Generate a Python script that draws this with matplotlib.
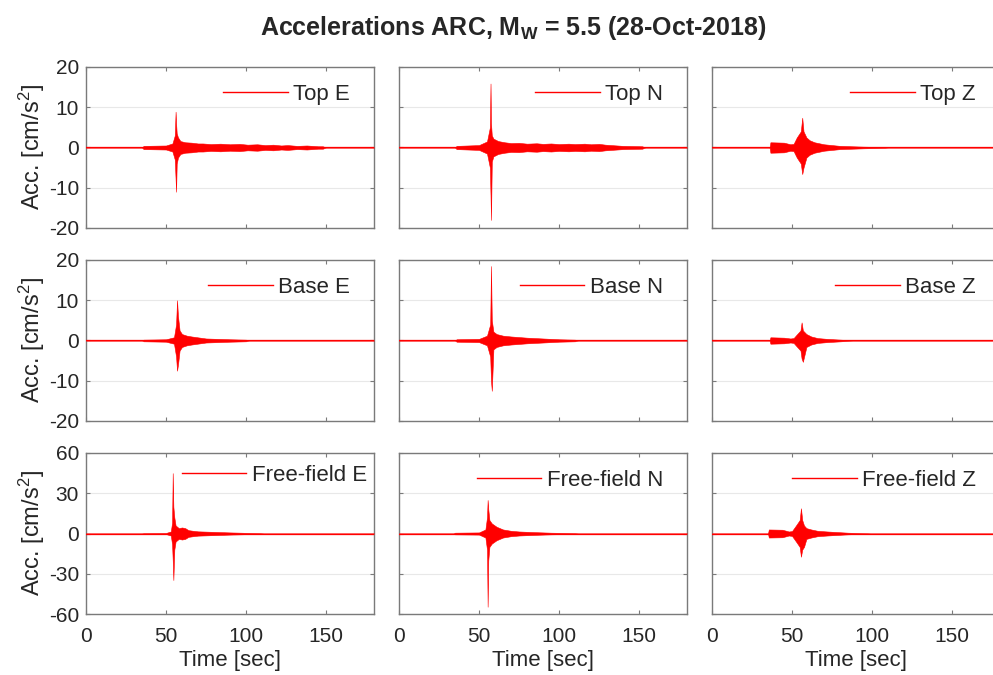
import matplotlib
matplotlib.use("Agg")
import matplotlib.pyplot as plt
from matplotlib.lines import Line2D

plt.rcParams['font.family'] = ['Liberation Sans', 'DejaVu Sans']
plt.rcParams['mathtext.fontset'] = 'custom'
plt.rcParams['mathtext.rm'] = 'Liberation Sans'
plt.rcParams['mathtext.it'] = 'Liberation Sans:italic'
plt.rcParams['mathtext.bf'] = 'Liberation Sans:bold'
plt.rcParams['axes.unicode_minus'] = False

# ---------------- data (envelopes) ----------------
TITLE = r"Accelerations ARC, M$_{\mathbf{W}}$ = 5.5 (28-Oct-2018)"
X_TICKS = [0, 50, 100, 150]
Y_TICKS_TOP = [-20, -10, 0, 10, 20]
Y_TICKS_FF = [-60, -30, 0, 30, 60]
LABELS = [["Top E", "Top N", "Top Z"],
          ["Base E", "Base N", "Base Z"],
          ["Free-field E", "Free-field N", "Free-field Z"]]

# Top E
TOP_E_T  = [0, 35, 36, 50, 54, 55.5, 56.0, 56.3, 56.7, 57.5, 59, 62, 66, 70, 73, 78, 84, 90, 96, 101, 107, 112, 117, 122, 126, 132, 138, 145, 148, 150, 180]
TOP_E_UP = [0, 0, 0.4, 0.5, 1.0, 3.0, 8.9, 6.0, 3.5, 2.5, 1.6, 1.3, 1.2, 1.0, 1.0, 0.85, 0.95, 0.8, 0.9, 0.7, 0.8, 0.6, 0.7, 0.5, 0.6, 0.4, 0.5, 0.3, 0.3, 0, 0]
TOP_E_LO = [0, 0, -0.4, -0.5, -1.0, -3.0, -8.0, -11.0, -4.0, -2.5, -1.6, -1.3, -1.2, -1.0, -1.0, -0.85, -0.95, -0.8, -0.9, -0.7, -0.8, -0.6, -0.7, -0.5, -0.6, -0.4, -0.5, -0.3, -0.3, 0, 0]
# Top N
TOP_N_T  = [0, 35, 36, 50, 55, 56.8, 57.2, 57.5, 58.0, 59, 62, 66, 70, 75, 80, 86, 90, 95, 100, 106, 110, 116, 120, 125, 129, 140, 152, 154, 180]
TOP_N_UP = [0, 0, 0.4, 0.6, 1.5, 5.0, 15.9, 6.0, 3.0, 2.2, 1.6, 1.3, 1.1, 1.15, 0.95, 1.05, 0.9, 1.0, 0.85, 0.95, 0.85, 0.95, 0.8, 0.9, 0.7, 0.4, 0.3, 0, 0]
TOP_N_LO = [0, 0, -0.4, -0.6, -1.5, -5.0, -12.0, -18.0, -3.5, -2.2, -1.6, -1.3, -1.1, -1.15, -0.95, -1.05, -0.9, -1.0, -0.85, -0.95, -0.85, -0.95, -0.8, -0.9, -0.7, -0.4, -0.3, 0, 0]
# Top Z
TOP_Z_T  = [0, 36, 36.5, 45, 49, 51, 53, 55.5, 56.4, 57.2, 59, 61, 64, 70, 80, 95, 108, 110, 180]
TOP_Z_UP = [0, 0, 1.3, 1.2, 0.8, 0.9, 2.5, 4.0, 7.4, 4.0, 2.5, 1.8, 1.3, 0.8, 0.4, 0.2, 0.1, 0, 0]
TOP_Z_LO = [0, 0, -1.3, -1.2, -0.8, -0.9, -2.5, -4.0, -6.6, -5.0, -2.5, -1.8, -1.3, -0.8, -0.4, -0.2, -0.1, 0, 0]
# Base E
BASE_E_T  = [0, 35, 36, 50, 55, 56.3, 56.9, 57.5, 58.5, 60, 63, 66, 75, 90, 100, 102, 180]
BASE_E_UP = [0, 0, 0.2, 0.3, 0.8, 4.0, 10.0, 6.0, 2.5, 1.6, 1.2, 1.0, 0.5, 0.3, 0.2, 0, 0]
BASE_E_LO = [0, 0, -0.2, -0.3, -0.8, -4.0, -7.5, -6.0, -2.5, -1.6, -1.2, -1.0, -0.5, -0.3, -0.2, 0, 0]
# Base N
BASE_N_T  = [0, 35, 36, 50, 55, 57.0, 57.5, 58.0, 59, 61, 65, 70, 80, 90, 100, 110, 112, 180]
BASE_N_UP = [0, 0, 0.3, 0.4, 1.2, 4.0, 18.5, 5.0, 2.2, 1.6, 1.2, 1.0, 0.7, 0.5, 0.3, 0.2, 0, 0]
BASE_N_LO = [0, 0, -0.3, -0.4, -1.2, -4.0, -10.0, -12.5, -2.2, -1.6, -1.2, -1.0, -0.7, -0.5, -0.3, -0.2, 0, 0]
# Base Z
BASE_Z_T  = [0, 36, 36.5, 45, 49, 51, 53, 55.3, 56.0, 56.8, 59, 62, 66, 72, 85, 88, 180]
BASE_Z_UP = [0, 0, 0.8, 0.7, 0.5, 0.6, 1.5, 2.5, 4.5, 2.5, 1.6, 1.0, 0.6, 0.4, 0.1, 0, 0]
BASE_Z_LO = [0, 0, -0.8, -0.7, -0.5, -0.6, -1.5, -2.5, -4.5, -5.3, -1.6, -1.0, -0.6, -0.4, -0.1, 0, 0]
# Free-field E
FF_E_T  = [0, 35, 36, 50, 53, 53.8, 54.2, 54.6, 55.2, 56, 58, 60, 62, 64, 67, 70, 80, 90, 100, 109, 111, 180]
FF_E_UP = [0, 0, 0.3, 0.4, 1.5, 8.0, 45.0, 20.0, 12.0, 6.0, 4.0, 4.5, 4.0, 2.5, 2.0, 1.6, 1.2, 0.8, 0.5, 0.3, 0, 0]
FF_E_LO = [0, 0, -0.3, -0.4, -1.5, -8.0, -20.0, -34.7, -12.0, -6.0, -4.0, -4.5, -4.0, -2.5, -2.0, -1.6, -1.2, -0.8, -0.5, -0.3, 0, 0]
# Free-field N
FF_N_T  = [0, 34, 35, 50, 54, 55.0, 55.4, 55.8, 56.5, 58, 61, 65, 70, 75, 85, 95, 110, 112, 180]
FF_N_UP = [0, 0, 0.6, 0.8, 3.0, 12.0, 25.0, 18.0, 10.0, 7.5, 5.0, 3.0, 2.0, 1.5, 1.0, 0.6, 0.3, 0, 0]
FF_N_LO = [0, 0, -0.6, -0.8, -3.0, -12.0, -54.6, -20.0, -10.0, -7.5, -5.0, -3.0, -2.0, -1.5, -1.0, -0.6, -0.3, 0, 0]
# Free-field Z
FF_Z_T  = [0, 35, 35.5, 44, 48, 50, 52.5, 54.8, 55.6, 56.4, 57.5, 59, 62, 66, 72, 85, 97, 99, 180]
FF_Z_UP = [0, 0, 3.0, 2.8, 1.5, 1.8, 6.0, 10.0, 18.8, 10.0, 6.0, 4.0, 3.0, 2.0, 1.5, 0.6, 0.2, 0, 0]
FF_Z_LO = [0, 0, -3.0, -2.8, -1.5, -1.8, -6.0, -10.0, -17.3, -12.0, -10.0, -4.0, -3.0, -2.0, -1.5, -0.6, -0.2, 0, 0]

SERIES = [[(TOP_E_T, TOP_E_UP, TOP_E_LO), (TOP_N_T, TOP_N_UP, TOP_N_LO), (TOP_Z_T, TOP_Z_UP, TOP_Z_LO)],
          [(BASE_E_T, BASE_E_UP, BASE_E_LO), (BASE_N_T, BASE_N_UP, BASE_N_LO), (BASE_Z_T, BASE_Z_UP, BASE_Z_LO)],
          [(FF_E_T, FF_E_UP, FF_E_LO), (FF_N_T, FF_N_UP, FF_N_LO), (FF_Z_T, FF_Z_UP, FF_Z_LO)]]

# ---------------- figure ----------------
W, H = 993, 675
fig = plt.figure(figsize=(W / 100, H / 100), dpi=100)

col_x = [86, 399, 712]
row_y = [(67, 228), (260, 421), (453, 614)]
ax_w = 288
# legend offsets (px from right / top of each axes)
LEG_DX = [[15, 15, 15], [15, 15, 15], [-2, 15, 15]]
LEG_DY = [[8, 8, 8], [8, 8, 8], [3, 8, 8]]

TXT = '#262626'
SPINE = '#7a7a7a'
RED = '#ff0000'

for r in range(3):
    for c in range(3):
        top, bot = row_y[r]
        ax_h = bot - top
        ax = fig.add_axes([col_x[c] / W, 1 - bot / H, ax_w / W, ax_h / H])
        t, up, lo = SERIES[r][c]
        ax.axhline(0, color=RED, lw=0.9, zorder=3)
        ax.fill_between(t, lo, up, color=RED, lw=0.4, edgecolor=RED, zorder=3)
        ax.set_xlim(0, 180)
        yt = Y_TICKS_FF if r == 2 else Y_TICKS_TOP
        ax.set_ylim(yt[0], yt[-1])
        ax.set_yticks(yt)
        ax.set_xticks(X_TICKS)
        ax.yaxis.grid(True, color='#e8e8e8', lw=0.8, zorder=0)
        ax.set_axisbelow(True)
        ax.tick_params(direction='in', top=True, right=True, length=3,
                       color=SPINE, labelsize=15, labelcolor=TXT)
        ax.tick_params(axis='x', pad=9)
        ax.tick_params(axis='y', pad=5)
        for s in ax.spines.values():
            s.set_color(SPINE)
            s.set_linewidth(1.0)
        if c != 0:
            ax.tick_params(labelleft=False)
        else:
            ax.set_ylabel(r"Acc. [cm/s$^2$]", fontsize=17, color=TXT, labelpad=1)
        if r != 2:
            ax.tick_params(labelbottom=False)
        else:
            ax.set_xlabel("Time [sec]", fontsize=16, color=TXT, labelpad=3)
        h = Line2D([], [], color=RED, lw=1.0)
        ax.legend([h], [LABELS[r][c]], loc='upper right', frameon=False,
                  fontsize=16, handlelength=2.9, handletextpad=0.25,
                  borderaxespad=0.0, labelcolor=TXT,
                  bbox_to_anchor=(1 - LEG_DX[r][c] / ax_w, 1 - LEG_DY[r][c] / ax_h))

fig.text(513 / W, 1 - 28 / H, TITLE, ha='center', va='center',
         fontsize=18, fontweight='bold', color=TXT)

fig.savefig("out.png", dpi=100)
